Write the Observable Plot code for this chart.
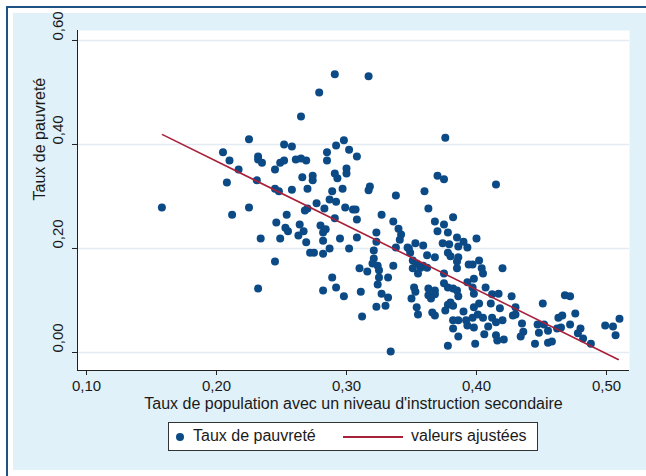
<!DOCTYPE html>
<html>
<head>
<meta charset="utf-8">
<script src="https://cdn.jsdelivr.net/npm/d3@7"></script>
<script src="https://cdn.jsdelivr.net/npm/@observablehq/plot@0.6"></script>
<style>
  html, body { margin: 0; padding: 0; background: #ffffff; }
  body { width: 646px; height: 476px; position: relative; overflow: hidden; font-family: "Liberation Sans", Arial, sans-serif; }
  #border { position: absolute; left: 6px; top: 6px; width: 640px; height: 470px; box-sizing: border-box;
            border-top: 2px solid #1f5384; border-left: 2px solid #1f5384; }
  #panel { position: absolute; left: 13px; top: 13px; width: 633px; height: 457px; background: #e0f1f9; }
  #chart { position: absolute; left: 0; top: 0; width: 646px; }
  #chart svg { display: block; }
  #legend { position: relative; margin-left: 168px; margin-top: 6px; width: 370px; height: 29px; box-sizing: border-box;
            border: 1px solid #333; background: #fff; font-size: 16px; color: #1a1a1a; }
  #legend .dot { position: absolute; left: 7px; top: 10px; width: 8px; height: 8px; border-radius: 50%; background: #0c4a86; }
  #legend .t1 { position: absolute; left: 24px; top: 4px; }
  #legend .line { position: absolute; left: 174px; top: 13px; width: 60px; height: 2px; background: #a8203a; }
  #legend .t2 { position: absolute; left: 242px; top: 4px; }
</style>
</head>
<body>
<div id="border"></div>
<div id="panel"></div>
<div id="chart"></div>
<script>
// ---- data ----
const povX = [
0.265,0.225,0.252,0.258,0.205,0.210,0.232,0.232,0.235,0.249,0.252,0.261,0.265,0.269,0.217,0.245,0.208,0.231,0.266,0.245,
0.248,0.258,0.270,0.158,0.225,0.270,0.291,0.317,0.279,0.376,0.292,0.298,0.302,0.285,0.285,0.308,0.300,0.300,0.291,0.293,
0.274,0.274,0.370,0.375,0.318,0.317,0.297,0.289,0.360,0.338,0.287,0.292,0.277,0.299,0.305,0.307,0.283,0.363,0.212,0.254,
0.246,0.253,0.255,0.264,0.267,0.263,0.268,0.234,0.249,0.269,0.272,0.245,0.232,0.291,0.308,0.327,0.336,0.280,0.284,0.282,
0.368,0.375,0.382,0.370,0.378,0.340,0.342,0.341,0.323,0.295,0.308,0.282,0.323,0.385,0.390,0.374,0.379,0.386,0.393,0.353,
0.359,0.347,0.338,0.287,0.302,0.275,0.282,0.321,0.321,0.348,0.349,0.362,0.368,0.378,0.380,0.386,0.385,0.394,0.351,0.354,
0.357,0.359,0.362,0.351,0.355,0.336,0.320,0.324,0.325,0.316,0.310,0.375,0.385,0.325,0.332,0.289,0.324,0.292,0.282,0.311,
0.352,0.353,0.363,0.368,0.375,0.378,0.382,0.385,0.393,0.386,0.363,0.368,0.365,0.327,0.332,0.298,0.350,0.323,0.330,0.354,
0.355,0.378,0.380,0.382,0.376,0.366,0.368,0.390,0.312,0.382,0.386,0.392,0.393,0.382,0.386,0.378,0.334,0.415,0.400,0.402,
0.397,0.404,0.405,0.420,0.398,0.407,0.397,0.398,0.412,0.417,0.427,0.411,0.430,0.402,0.398,0.418,0.451,0.468,0.472,0.428,
0.430,0.401,0.405,0.412,0.397,0.420,0.415,0.476,0.463,0.466,0.435,0.409,0.398,0.447,0.452,0.455,0.448,0.462,0.465,0.472,
0.480,0.478,0.436,0.434,0.406,0.415,0.416,0.421,0.455,0.458,0.445,0.482,0.488,0.499,0.505,0.510,0.507,0.399
];
const povY = [
0.454,0.410,0.400,0.396,0.385,0.369,0.377,0.371,0.365,0.365,0.369,0.371,0.373,0.369,0.352,0.352,0.327,0.331,0.337,0.315,
0.310,0.313,0.315,0.279,0.279,0.277,0.535,0.531,0.500,0.413,0.398,0.408,0.390,0.385,0.369,0.377,0.354,0.344,0.344,0.335,
0.340,0.331,0.340,0.333,0.319,0.312,0.315,0.310,0.310,0.302,0.294,0.290,0.287,0.279,0.275,0.275,0.277,0.277,0.265,0.265,
0.250,0.240,0.233,0.246,0.233,0.225,0.273,0.219,0.219,0.212,0.192,0.175,0.123,0.258,0.256,0.265,0.252,0.244,0.237,0.231,
0.252,0.246,0.260,0.233,0.231,0.238,0.227,0.217,0.231,0.219,0.221,0.215,0.213,0.221,0.213,0.210,0.208,0.204,0.202,0.210,
0.206,0.202,0.202,0.200,0.200,0.192,0.190,0.196,0.181,0.200,0.192,0.187,0.183,0.192,0.185,0.183,0.175,0.169,0.177,0.171,
0.163,0.167,0.163,0.162,0.152,0.167,0.171,0.167,0.158,0.156,0.162,0.152,0.162,0.144,0.144,0.144,0.131,0.125,0.119,0.117,
0.125,0.117,0.123,0.119,0.133,0.125,0.123,0.119,0.135,0.108,0.110,0.112,0.104,0.113,0.106,0.108,0.104,0.088,0.090,0.087,
0.073,0.092,0.096,0.090,0.081,0.077,0.071,0.079,0.069,0.062,0.062,0.062,0.052,0.046,0.031,0.013,0.002,0.323,0.219,0.177,
0.169,0.162,0.152,0.162,0.142,0.125,0.125,0.113,0.112,0.113,0.108,0.094,0.087,0.094,0.087,0.085,0.094,0.110,0.108,0.071,
0.073,0.073,0.067,0.067,0.067,0.062,0.058,0.075,0.067,0.071,0.056,0.050,0.048,0.054,0.054,0.042,0.038,0.046,0.048,0.054,
0.046,0.037,0.040,0.031,0.035,0.033,0.023,0.025,0.019,0.021,0.017,0.027,0.017,0.052,0.050,0.065,0.033,0.017
];
// fitted line (valeurs ajustées) endpoints
const fitX = [0.1585, 0.509];
const fitY = [0.419, -0.0135];
const xTicks = [0.1, 0.2, 0.3, 0.4, 0.5];
const yTicks = [0, 0.2, 0.4, 0.6];
const xTitle = "Taux de population avec un niveau d'instruction secondaire";
const yTitle = "Taux de pauvreté";
const legendLabels = ["Taux de pauvreté", "valeurs ajustées"];

const points = povX.map((x, i) => ({x, y: povY[i]}));
const fit = fitX.map((x, i) => ({x, y: fitY[i]}));
const fmt = d => d.toFixed(2).replace(".", ",");

const xDom = [0.09308, 0.5177];
const yDom = [-0.0346, 0.6192];

const chart = Plot.plot({
  width: 646,
  height: 416,
  marginLeft: 77,
  marginRight: 17,
  marginTop: 30,
  marginBottom: 46,
  style: {fontFamily: "'Liberation Sans', Arial, sans-serif", fontSize: "15px", color: "#1a1a1a", background: "transparent", overflow: "visible"},
  x: {domain: xDom},
  y: {domain: yDom},
  marks: [
    Plot.frame({fill: "white", stroke: null}),
    Plot.ruleY(yTicks, {stroke: "#e3ecf3", strokeWidth: 1.5}),
    Plot.ruleX([xDom[0]], {stroke: "#222"}),
    Plot.ruleY([yDom[0]], {stroke: "#222"}),
    Plot.axisX({ticks: xTicks, tickSize: 5, tickPadding: 5, tickFormat: fmt, label: null, fontSize: 15, stroke: "#222"}),
    Plot.axisY({ticks: yTicks, tickSize: 5, tickFormat: () => "", label: null, stroke: "#222"}),
    Plot.text(yTicks, {y: d => d, frameAnchor: "left", dx: -19, rotate: -90, text: fmt, fontSize: 15, fill: "#1a1a1a"}),
    Plot.text([yTitle], {frameAnchor: "left", dx: -38, rotate: -90, text: d => d, fontSize: 16, fill: "#1a1a1a"}),
    Plot.text([xTitle], {frameAnchor: "bottom", dy: 38, text: d => d, fontSize: 16, fill: "#1a1a1a"}),
    Plot.dot(points, {x: "x", y: "y", r: 4, fill: "#0c4a86", stroke: null}),
    Plot.line(fit, {x: "x", y: "y", stroke: "#a8203a", strokeWidth: 1.6})
  ]
});

const host = document.getElementById("chart");
host.appendChild(chart);

const legend = document.createElement("div");
legend.id = "legend";
legend.innerHTML = `<span class="dot"></span><span class="t1">${legendLabels[0]}</span><span class="line"></span><span class="t2">${legendLabels[1]}</span>`;
host.appendChild(legend);
</script>
</body>
</html>
